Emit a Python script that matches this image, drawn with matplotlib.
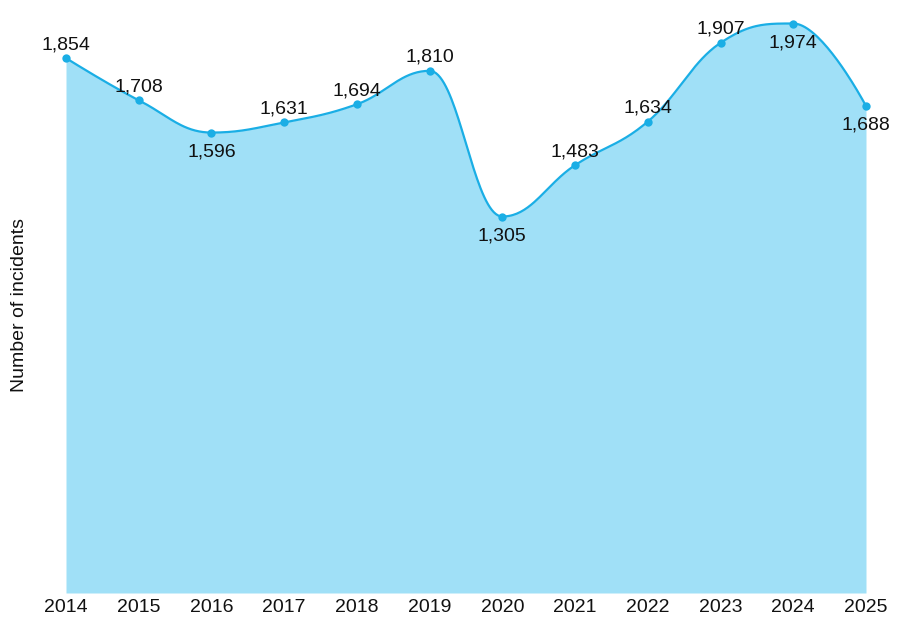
import numpy as np
import matplotlib.pyplot as plt

plt.rcParams['font.family'] = ['Liberation Sans', 'DejaVu Sans']

# Data
years = [2014, 2015, 2016, 2017, 2018, 2019, 2020, 2021, 2022, 2023, 2024, 2025]
incidents = [1854, 1708, 1596, 1631, 1694, 1810, 1305, 1483, 1634, 1907, 1974, 1688]
label_below = [2016, 2020, 2024, 2025]

LINE = '#1aaee5'
FILL = '#a0e0f7'


def spline_path(xs, ys, smoothing=1.5, steps=40):
    # bezier spline through the points, control points like a charting lib's "spline"
    n = len(xs)
    denom = smoothing + 1
    left = [(xs[i], ys[i]) for i in range(n)]
    right = [(xs[i], ys[i]) for i in range(n)]
    for i in range(1, n - 1):
        lx, ly = xs[i - 1], ys[i - 1]
        nx, ny = xs[i + 1], ys[i + 1]
        px, py = xs[i], ys[i]
        lcx = (smoothing * px + lx) / denom
        lcy = (smoothing * py + ly) / denom
        rcx = (smoothing * px + nx) / denom
        rcy = (smoothing * py + ny) / denom
        corr = 0
        if rcx != lcx:
            corr = (rcy - lcy) * (rcx - px) / (rcx - lcx) + py - rcy
        lcy += corr
        rcy += corr
        if lcy > ly and lcy > py:
            lcy = max(ly, py)
            rcy = 2 * py - lcy
        elif lcy < ly and lcy < py:
            lcy = min(ly, py)
            rcy = 2 * py - lcy
        if rcy > ny and rcy > py:
            rcy = max(ny, py)
            lcy = 2 * py - rcy
        elif rcy < ny and rcy < py:
            rcy = min(ny, py)
            lcy = 2 * py - rcy
        left[i] = (lcx, lcy)
        right[i] = (rcx, rcy)
    t = np.linspace(0, 1, steps)
    outx, outy = [], []
    for i in range(1, n):
        p0 = (xs[i - 1], ys[i - 1])
        p1 = right[i - 1]
        p2 = left[i]
        p3 = (xs[i], ys[i])
        bx = (1 - t) ** 3 * p0[0] + 3 * (1 - t) ** 2 * t * p1[0] + 3 * (1 - t) * t ** 2 * p2[0] + t ** 3 * p3[0]
        by = (1 - t) ** 3 * p0[1] + 3 * (1 - t) ** 2 * t * p1[1] + 3 * (1 - t) * t ** 2 * p2[1] + t ** 3 * p3[1]
        outx.extend(bx if i == 1 else bx[1:])
        outy.extend(by if i == 1 else by[1:])
    return np.array(outx), np.array(outy)


fig = plt.figure(figsize=(9.05, 6.35), dpi=100)
ax = fig.add_axes([66 / 905, 42 / 635, 800 / 905, 577 / 635])

sx, sy = spline_path(years, incidents)
ax.fill_between(sx, sy, 0, color=FILL, lw=0)
ax.plot(sx, sy, color=LINE, lw=1.6, solid_capstyle='round')
ax.plot(years, incidents, 'o', color=LINE, ms=6, mew=0, clip_on=False)

for x, y in zip(years, incidents):
    if x in label_below:
        off = -17
    else:
        off = 6.5
    ax.annotate(f'{y:,}', (x, y), xytext=(0, off), textcoords='offset points',
                ha='center', va='baseline', fontsize=14, color='#111111')

ax.set_xlim(2014, 2025)
ax.set_ylim(0, 2000)
ax.set_xticks(years)
ax.set_xticklabels([str(y) for y in years], fontsize=14, color='#111111')
ax.set_yticks([])
ax.tick_params(axis='x', length=0, pad=4.6)
for s in ax.spines.values():
    s.set_visible(False)

fig.text(20 / 905, 1 - 305 / 635, 'Number of incidents', rotation=90,
         ha='center', va='center', fontsize=14, color='#111111')

plt.savefig('out.png', dpi=100)
